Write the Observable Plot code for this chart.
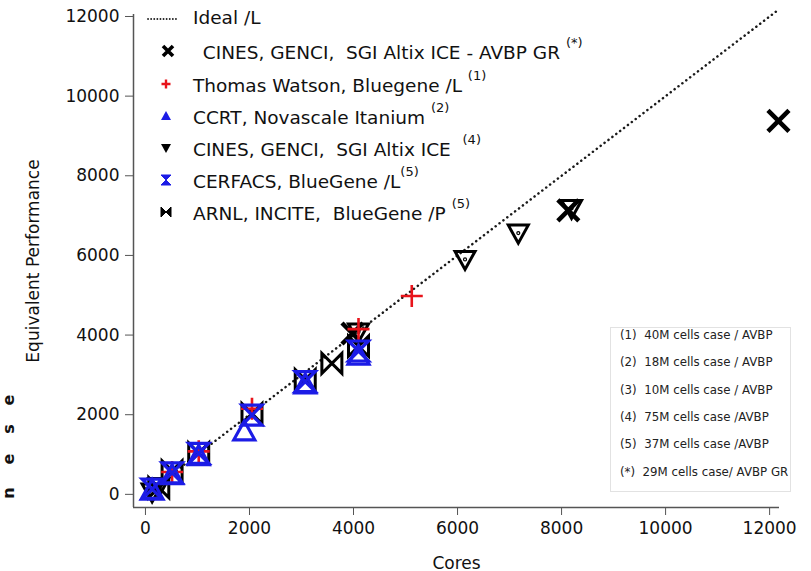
<!DOCTYPE html>
<html>
<head>
<meta charset="utf-8">
<script src="https://cdn.jsdelivr.net/npm/d3@7"></script>
<script src="https://cdn.jsdelivr.net/npm/@observablehq/plot@0.6"></script>
<style>
  html, body { margin: 0; padding: 0; background: #fff; }
  #wrap { position: relative; width: 811px; height: 571px; overflow: hidden; font-family: "DejaVu Sans", sans-serif; color: #111; }
  .lg { position: absolute; left: 0; font-size: 18.5px; white-space: pre; line-height: 1; }
  .lg .t { position: absolute; left: 193px; top: -10px; }
  .lg sup { font-size: 13px; position: relative; top: -5px; }
  .lg svg { position: absolute; left: 158px; top: -8px; }
  #notes { position: absolute; left: 610px; top: 327px; width: 181px; height: 165px; border: 1px solid #e2e2e2; box-sizing: border-box; background: #fff; }
  #notes div { position: absolute; left: 9px; font-size: 11.8px; white-space: pre; color: #222; }
  .frag { position: absolute; left: 1px; width: 16px; height: 16px; line-height: 16px; text-align: center; font-size: 16px; font-weight: bold; transform: rotate(-90deg); }
</style>
</head>
<body>
<div id="wrap"></div>
<script>
// ---------- data ----------
const xTicks = [0, 2000, 4000, 6000, 8000, 10000, 12000];
const yTicks = [0, 2000, 4000, 6000, 8000, 10000, 12000];
const xDomain = [-230, 12190];
const yDomain = [-330, 12050];

const idealCores = [0, 12190];
const idealPerf = [0, 12190];

const grCores = [3980, 8130, 12170];
const grPerf = [4040, 7130, 9380];

const twCores = [512, 1024, 2048, 4096, 5120];
const twPerf = [560, 1080, 2150, 4150, 4980];

const ccrtCores = [128, 512, 1024, 1900, 3072, 4096];
const ccrtPerf = [110, 480, 960, 1580, 2760, 3480];

const cinesCores = [128, 256, 4096, 6144, 7168, 8192];
const cinesPerf = [60, 200, 4080, 5900, 6560, 7180];

const cerfCores = [128, 512, 1024, 2048, 3072, 4096];
const cerfPerf = [130, 540, 1030, 1990, 2830, 3600];

const arnlCores = [256, 512, 1024, 2048, 3072, 3584, 4096];
const arnlPerf = [170, 590, 1040, 2030, 2880, 3290, 3720];

const legendLabels = [
  ["Ideal /L", ""],
  ["  CINES, GENCI,  SGI Altix ICE - AVBP GR ", "(*)"],
  ["Thomas Watson, Bluegene /L ", "(1)"],
  ["CCRT, Novascale Itanium ", "(2)"],
  ["CINES, GENCI,  SGI Altix ICE  ", "(4)"],
  ["CERFACS, BlueGene /L", "(5)"],
  ["ARNL, INCITE,  BlueGene /P ", "(5)"]
];
const notes = [
  "(1)  40M cells case / AVBP",
  "(2)  18M cells case / AVBP",
  "(3)  10M cells case / AVBP",
  "(4)  75M cells case /AVBP",
  "(5)  37M cells case /AVBP",
  "(*)  29M cells case/ AVBP GR"
];
const edgeFragments = ["e", "s", "e", "n"];

const BLUE = "#1c1ce6", RED = "#e8141b", BLACK = "#000";

// ---------- symbols ----------
const sym = fn => ({ draw(ctx, size) { fn(ctx, Math.sqrt(size / Math.PI)); } });
const symTimes = sym((c, r) => { c.moveTo(-r, -r); c.lineTo(r, r); c.moveTo(r, -r); c.lineTo(-r, r); });
const symPlus = sym((c, r) => { c.moveTo(-r, 0); c.lineTo(r, 0); c.moveTo(0, -r); c.lineTo(0, r); });
const symUp = sym((c, r) => { c.moveTo(0, -r); c.lineTo(r, r * 0.8); c.lineTo(-r, r * 0.8); c.closePath(); });
const symDown = sym((c, r) => { c.moveTo(-r, -r * 0.8); c.lineTo(r, -r * 0.8); c.lineTo(0, r); c.closePath(); c.moveTo(0.6, 0); c.arc(0, 0, 0.6, 0, 2 * Math.PI); });
const symHour = sym((c, r) => { c.moveTo(-r, -r); c.lineTo(r, -r); c.lineTo(-r, r); c.lineTo(r, r); c.closePath(); });
const symBow = sym((c, r) => { c.moveTo(-r, -r); c.lineTo(-r, r); c.lineTo(r, -r); c.lineTo(r, r); c.closePath(); });

const pts = (xs, ys) => xs.map((x, i) => ({x, y: ys[i]}));

const chart = Plot.plot({
  width: 811, height: 571,
  marginLeft: 133, marginRight: 32, marginTop: 14, marginBottom: 64,
  x: {domain: xDomain},
  y: {domain: yDomain},
  style: {fontFamily: "DejaVu Sans, sans-serif", fontSize: "17px", color: "#111", background: "transparent"},
  marks: [
    Plot.ruleX([xDomain[0]], {stroke: "#555", strokeWidth: 1.5}),
    Plot.ruleY([yDomain[0]], {stroke: "#555", strokeWidth: 1.5}),
    Plot.axisX(xTicks, {tickSize: 8, tickPadding: 6, stroke: "#555", tickFormat: d => String(d), label: "Cores", labelAnchor: "center", labelOffset: 61, labelArrow: "none"}),
    Plot.axisY(yTicks, {tickSize: 8, tickPadding: 6, stroke: "#555", tickFormat: d => String(d), label: "Equivalent Performance", labelAnchor: "center", labelOffset: 107, labelArrow: "none"}),
    Plot.line(pts(idealCores, idealPerf), {x: "x", y: "y", stroke: "#1a1a1a", strokeWidth: 2.5, strokeDasharray: "0.1,4.8", strokeLinecap: "round"}),
    Plot.dot(pts(arnlCores, arnlPerf), {x: "x", y: "y", symbol: symBow, r: 10, stroke: BLACK, strokeWidth: 3}),
    Plot.dot(pts(cinesCores, cinesPerf), {x: "x", y: "y", symbol: symDown, r: 10, stroke: BLACK, strokeWidth: 3}),
    Plot.dot(pts(grCores, grPerf), {x: "x", y: "y", symbol: symTimes, r: 10.5, stroke: BLACK, strokeWidth: 4.5}),
    Plot.dot(pts(twCores, twPerf), {x: "x", y: "y", symbol: symPlus, r: 11, stroke: RED, strokeWidth: 2.6}),
    Plot.dot(pts(ccrtCores, ccrtPerf), {x: "x", y: "y", symbol: symUp, r: 10.5, stroke: BLUE, strokeWidth: 3.2}),
    Plot.dot(pts(cerfCores, cerfPerf), {x: "x", y: "y", symbol: symHour, r: 10, stroke: BLUE, strokeWidth: 3.2})
  ]
});
const wrap = document.getElementById("wrap");
wrap.appendChild(chart);

// ---------- legend ----------
const rowTops = [19, 51, 84, 116, 148, 180, 212];
const legendSyms = [
  `<svg width="34" height="16" viewBox="-17 -8 34 16" style="left:146px"><line x1="-15" x2="15" y1="0" y2="0" stroke="#222" stroke-width="1.8" stroke-dasharray="0.1,3" stroke-linecap="round"/></svg>`,
  `<svg width="16" height="16" viewBox="-8 -8 16 16" style="left:160px"><path d="M-5,-5L5,5M5,-5L-5,5" stroke="#000" stroke-width="3.6"/></svg>`,
  `<svg width="16" height="16" viewBox="-8 -8 16 16"><path d="M-4.5,0H4.5M0,-4.5V4.5" stroke="${RED}" stroke-width="2.4"/></svg>`,
  `<svg width="16" height="16" viewBox="-8 -8 16 16"><path d="M0,-5L5,4L-5,4Z" fill="${BLUE}"/></svg>`,
  `<svg width="16" height="16" viewBox="-8 -8 16 16"><path d="M-5,-4L5,-4L0,5Z" fill="#000"/></svg>`,
  `<svg width="16" height="16" viewBox="-8 -8 16 16"><path d="M-5,-5L5,-5L-5,5L5,5Z" fill="${BLUE}" stroke="${BLUE}" stroke-width="1"/></svg>`,
  `<svg width="16" height="16" viewBox="-8 -8 16 16"><path d="M-5,-5L-5,5L5,-5L5,5Z" fill="#000" stroke="#000" stroke-width="1"/></svg>`
];
legendLabels.forEach(([txt, sup], i) => {
  const d = document.createElement("div");
  d.className = "lg";
  d.style.top = rowTops[i] + "px";
  d.innerHTML = legendSyms[i] + `<span class="t"${i === 1 ? ' style="left:191px"' : ''}>${txt}${sup ? `<sup>${sup}</sup>` : ""}</span>`;
  wrap.appendChild(d);
});

// ---------- notes box ----------
const nb = document.createElement("div");
nb.id = "notes";
notes.forEach((t, i) => {
  const d = document.createElement("div");
  d.style.top = (0 + i * 27.3) + "px";
  d.textContent = t;
  nb.appendChild(d);
});
wrap.appendChild(nb);

// ---------- cropped neighbouring text at left edge ----------
const fragTops = [392, 421, 451, 485];
edgeFragments.forEach((t, i) => {
  const d = document.createElement("div");
  d.className = "frag";
  d.style.top = fragTops[i] + "px";
  d.textContent = t;
  wrap.appendChild(d);
});
</script>
</body>
</html>
